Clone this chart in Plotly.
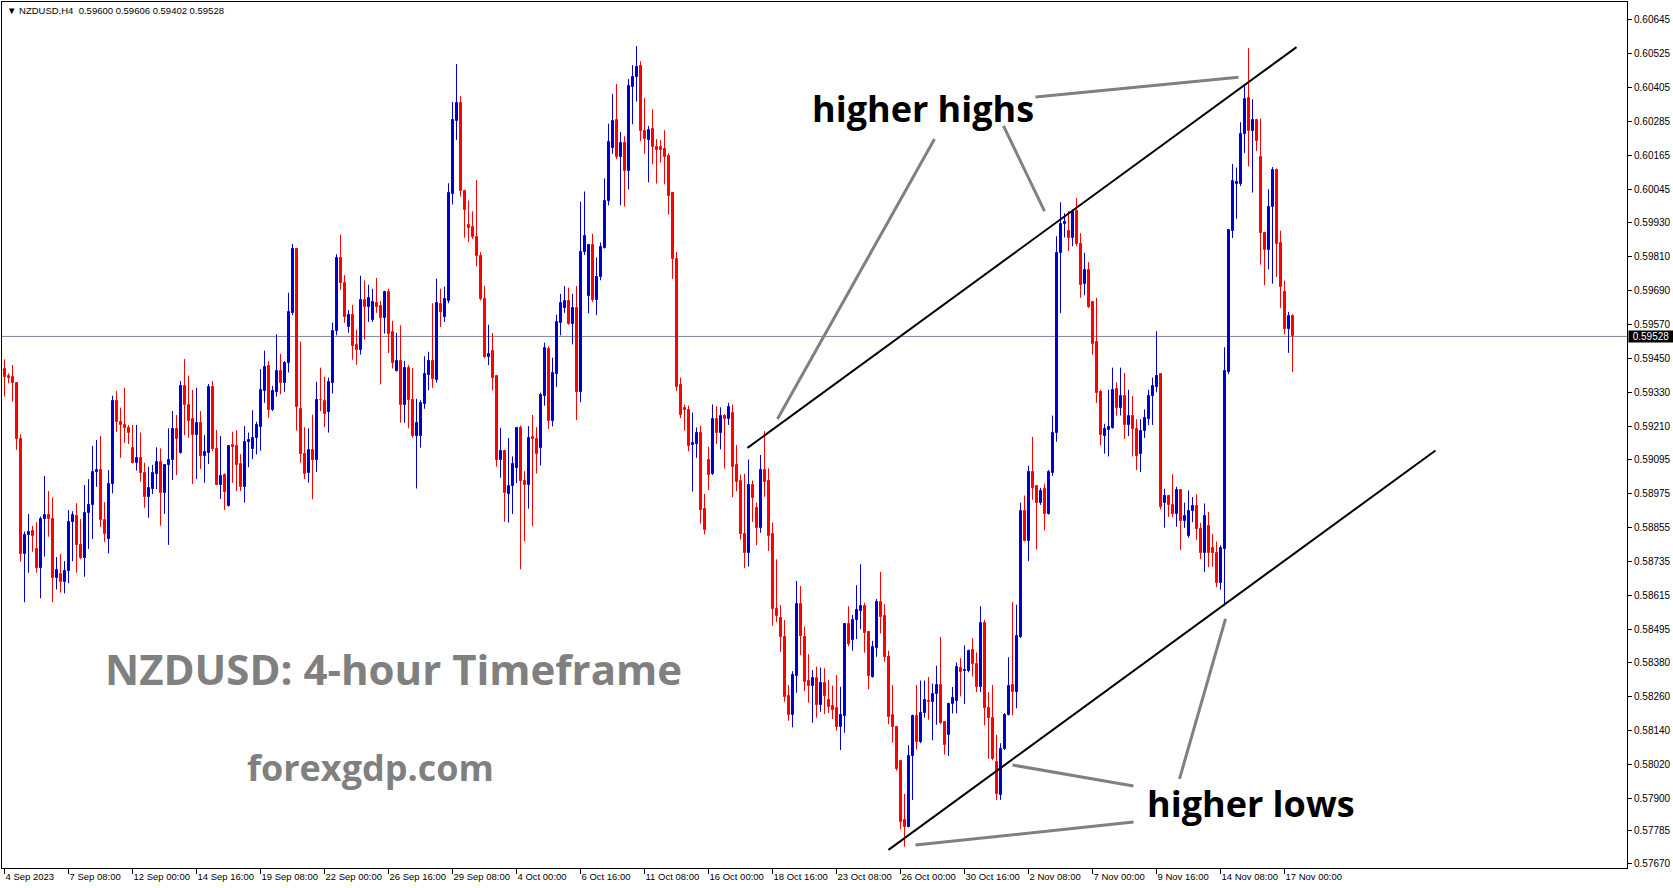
import plotly.graph_objects as go

# ---------------- data (NZDUSD H4) ----------------
open_ = [
    0.59412, 0.59388, 0.59385, 0.59363, 0.59165, 0.58760, 0.58828, 0.58841, 0.58777, 0.58710,
    0.58884, 0.58898, 0.58884, 0.58677, 0.58690, 0.58663, 0.58701, 0.58874, 0.58895, 0.58793,
    0.58748, 0.58904, 0.58934, 0.59049, 0.59057, 0.58881, 0.58815, 0.59008, 0.59300, 0.59227,
    0.59216, 0.59206, 0.59136, 0.59083, 0.59100, 0.59048, 0.58963, 0.58989, 0.59043, 0.59084,
    0.58975, 0.59075, 0.59092, 0.59202, 0.59118, 0.59353, 0.59288, 0.59237, 0.59180, 0.59224,
    0.59106, 0.59118, 0.59351, 0.59130, 0.59006, 0.59040, 0.58930, 0.59145, 0.59142, 0.59078,
    0.58998, 0.59157, 0.59130, 0.59171, 0.59210, 0.59337, 0.59424, 0.59268, 0.59333, 0.59406,
    0.59365, 0.59433, 0.59612, 0.59838, 0.59273, 0.59112, 0.59046, 0.59129, 0.59091, 0.59305,
    0.59302, 0.59260, 0.59365, 0.59546, 0.59806, 0.59716, 0.59561, 0.59603, 0.59498, 0.59480,
    0.59657, 0.59633, 0.59585, 0.59647, 0.59636, 0.59594, 0.59684, 0.59544, 0.59407, 0.59442,
    0.59285, 0.59416, 0.59303, 0.59177, 0.59177, 0.59291, 0.59392, 0.59442, 0.59373, 0.59642,
    0.59597, 0.59654, 0.60030, 0.60288, 0.60351, 0.60042, 0.59922, 0.59914, 0.59879, 0.59812,
    0.59661, 0.59455, 0.59478, 0.59387, 0.59091, 0.59123, 0.58974, 0.59000, 0.59065, 0.59206,
    0.59020, 0.59006, 0.59172, 0.59166, 0.59136, 0.59318, 0.59484, 0.59229, 0.59397, 0.59575,
    0.59629, 0.59654, 0.59572, 0.59627, 0.59333, 0.59825, 0.59672, 0.59851, 0.59655, 0.59737,
    0.59841, 0.60004, 0.60192, 0.60291, 0.60159, 0.60210, 0.60112, 0.60409, 0.60444, 0.60480,
    0.60252, 0.60222, 0.60260, 0.60195, 0.60195, 0.60189, 0.60165, 0.60032, 0.59802, 0.59356,
    0.59274, 0.59270, 0.59147, 0.59149, 0.59189, 0.58921, 0.59094, 0.59043, 0.59237, 0.59187,
    0.59246, 0.59237, 0.59258, 0.59074, 0.59020, 0.58833, 0.58764, 0.59005, 0.58922, 0.58851,
    0.59057, 0.59018, 0.58830, 0.58567, 0.58537, 0.58469, 0.58260, 0.58193, 0.58332, 0.58584,
    0.58469, 0.58314, 0.58297, 0.58325, 0.58228, 0.58307, 0.58246, 0.58226, 0.58219, 0.58152,
    0.58191, 0.58514, 0.58458, 0.58528, 0.58561, 0.58577, 0.58487, 0.58328, 0.58428, 0.58593,
    0.58542, 0.58399, 0.58193, 0.58152, 0.58032, 0.57823, 0.57800, 0.58049, 0.58189, 0.58097,
    0.58199, 0.58244, 0.58240, 0.58267, 0.58299, 0.58169, 0.58124, 0.58232, 0.58244, 0.58359,
    0.58347, 0.58349, 0.58424, 0.58372, 0.58292, 0.58517, 0.58217, 0.58184, 0.58027, 0.57911,
    0.58074, 0.58192, 0.58299, 0.58274, 0.58469, 0.58912, 0.58807, 0.59051, 0.58999, 0.58942,
    0.58990, 0.58901, 0.59047, 0.59186, 0.59823, 0.59924, 0.59901, 0.59875, 0.59970, 0.59855,
    0.59712, 0.59761, 0.59650, 0.59510, 0.59331, 0.59177, 0.59199, 0.59205, 0.59343, 0.59275,
    0.59318, 0.59216, 0.59249, 0.59203, 0.59114, 0.59194, 0.59236, 0.59318, 0.59350, 0.59395,
    0.58942, 0.58964, 0.58935, 0.58903, 0.58988, 0.58877, 0.58824, 0.58912, 0.58931, 0.58848,
    0.58763, 0.58861, 0.58781, 0.58766, 0.58659, 0.58779, 0.59401, 0.59901, 0.60067, 0.60067,
    0.60240, 0.60368, 0.60251, 0.60292, 0.60159, 0.59894, 0.59833, 0.59983, 0.60116, 0.59858,
    0.59683, 0.59555, 0.59600,
]
high = [
    0.59447, 0.59398, 0.59427, 0.59365, 0.59183, 0.58840, 0.58902, 0.58860, 0.58873, 0.58893,
    0.59036, 0.58983, 0.58960, 0.58750, 0.58761, 0.58736, 0.58916, 0.58912, 0.58940, 0.58884,
    0.59004, 0.59025, 0.59142, 0.59163, 0.59177, 0.58944, 0.59057, 0.59319, 0.59335, 0.59277,
    0.59347, 0.59216, 0.59216, 0.59216, 0.59189, 0.59083, 0.59069, 0.59075, 0.59137, 0.59133,
    0.59078, 0.59204, 0.59265, 0.59251, 0.59371, 0.59448, 0.59390, 0.59339, 0.59347, 0.59265,
    0.59180, 0.59360, 0.59371, 0.59198, 0.59177, 0.59045, 0.59145, 0.59192, 0.59198, 0.59113,
    0.59212, 0.59189, 0.59268, 0.59227, 0.59413, 0.59478, 0.59441, 0.59353, 0.59536, 0.59466,
    0.59441, 0.59682, 0.59854, 0.59840, 0.59510, 0.59208, 0.59204, 0.59252, 0.59368, 0.59418,
    0.59386, 0.59383, 0.59577, 0.59818, 0.59887, 0.59744, 0.59621, 0.59639, 0.59552, 0.59742,
    0.59725, 0.59710, 0.59696, 0.59734, 0.59653, 0.59689, 0.59696, 0.59583, 0.59541, 0.59567,
    0.59442, 0.59428, 0.59416, 0.59308, 0.59303, 0.59458, 0.59474, 0.59645, 0.59732, 0.59696,
    0.59704, 0.60068, 0.60355, 0.60488, 0.60375, 0.60045, 0.60007, 0.59969, 0.60079, 0.59825,
    0.59706, 0.59569, 0.59540, 0.59390, 0.59206, 0.59126, 0.59170, 0.59105, 0.59208, 0.59214,
    0.59053, 0.59212, 0.59251, 0.59208, 0.59330, 0.59506, 0.59493, 0.59453, 0.59605, 0.59678,
    0.59706, 0.59700, 0.59678, 0.59706, 0.60003, 0.60039, 0.59853, 0.59890, 0.59806, 0.59859,
    0.60085, 0.60278, 0.60383, 0.60418, 0.60249, 0.60234, 0.60436, 0.60484, 0.60552, 0.60498,
    0.60368, 0.60270, 0.60329, 0.60224, 0.60220, 0.60255, 0.60174, 0.60035, 0.59826, 0.59383,
    0.59288, 0.59284, 0.59260, 0.59207, 0.59213, 0.58973, 0.59139, 0.59288, 0.59282, 0.59278,
    0.59254, 0.59294, 0.59288, 0.59145, 0.59041, 0.59044, 0.59094, 0.59020, 0.58942, 0.59110,
    0.59194, 0.59063, 0.58872, 0.58742, 0.58581, 0.58528, 0.58299, 0.58348, 0.58666, 0.58648,
    0.58505, 0.58408, 0.58352, 0.58364, 0.58361, 0.58358, 0.58317, 0.58297, 0.58334, 0.58293,
    0.58517, 0.58577, 0.58546, 0.58651, 0.58725, 0.58589, 0.58490, 0.58455, 0.58602, 0.58698,
    0.58584, 0.58420, 0.58299, 0.58155, 0.58035, 0.57915, 0.58087, 0.58195, 0.58299, 0.58315,
    0.58315, 0.58327, 0.58304, 0.58367, 0.58469, 0.58172, 0.58237, 0.58292, 0.58379, 0.58394,
    0.58439, 0.58424, 0.58464, 0.58414, 0.58577, 0.58529, 0.58274, 0.58299, 0.58124, 0.58094,
    0.58200, 0.58397, 0.58592, 0.58582, 0.58942, 0.58967, 0.59072, 0.59174, 0.59002, 0.58994,
    0.59009, 0.59057, 0.59249, 0.59881, 0.60001, 0.59962, 0.59970, 0.59975, 0.60016, 0.59892,
    0.59823, 0.59790, 0.59653, 0.59664, 0.59340, 0.59220, 0.59340, 0.59418, 0.59366, 0.59418,
    0.59399, 0.59340, 0.59318, 0.59236, 0.59236, 0.59271, 0.59340, 0.59383, 0.59546, 0.59399,
    0.58991, 0.58970, 0.59042, 0.58998, 0.58990, 0.58942, 0.58985, 0.58962, 0.58972, 0.58870,
    0.58939, 0.58909, 0.58831, 0.58805, 0.58792, 0.59490, 0.59907, 0.60136, 0.60123, 0.60283,
    0.60410, 0.60544, 0.60364, 0.60295, 0.60296, 0.59897, 0.60047, 0.60125, 0.60120, 0.59901,
    0.59725, 0.59614, 0.59606,
]
low = [
    0.59316, 0.59363, 0.59298, 0.59128, 0.58734, 0.58591, 0.58695, 0.58769, 0.58695, 0.58605,
    0.58752, 0.58822, 0.58591, 0.58636, 0.58625, 0.58622, 0.58658, 0.58736, 0.58695, 0.58743,
    0.58681, 0.58779, 0.58814, 0.58998, 0.58857, 0.58804, 0.58763, 0.58975, 0.59192, 0.59100,
    0.59153, 0.59149, 0.59080, 0.59055, 0.59016, 0.58924, 0.58889, 0.58972, 0.58990, 0.58861,
    0.58902, 0.58793, 0.59022, 0.59039, 0.59115, 0.59180, 0.59171, 0.59008, 0.59025, 0.59061,
    0.59012, 0.59078, 0.59124, 0.59004, 0.58955, 0.58916, 0.58928, 0.59012, 0.58983, 0.58983,
    0.58942, 0.59067, 0.59095, 0.59112, 0.59125, 0.59294, 0.59241, 0.59265, 0.59316, 0.59324,
    0.59333, 0.59401, 0.59603, 0.59196, 0.59083, 0.59025, 0.59013, 0.58954, 0.59050, 0.59264,
    0.59208, 0.59189, 0.59327, 0.59532, 0.59692, 0.59576, 0.59541, 0.59446, 0.59428, 0.59464,
    0.59517, 0.59579, 0.59579, 0.59611, 0.59359, 0.59538, 0.59470, 0.59415, 0.59404, 0.59224,
    0.59224, 0.59204, 0.59171, 0.58992, 0.59136, 0.59273, 0.59338, 0.59347, 0.59365, 0.59561,
    0.59579, 0.59645, 0.59993, 0.60221, 0.60021, 0.59876, 0.59860, 0.59872, 0.59775, 0.59655,
    0.59451, 0.59427, 0.59338, 0.59069, 0.59030, 0.58875, 0.58872, 0.58902, 0.59011, 0.58707,
    0.58806, 0.58921, 0.58859, 0.59045, 0.59073, 0.59284, 0.59202, 0.59211, 0.59350, 0.59532,
    0.59611, 0.59569, 0.59500, 0.59233, 0.59296, 0.59815, 0.59609, 0.59650, 0.59603, 0.59726,
    0.59838, 0.59990, 0.60172, 0.60153, 0.59990, 0.59986, 0.60046, 0.60276, 0.60356, 0.60216,
    0.60172, 0.60071, 0.60135, 0.60067, 0.60141, 0.60064, 0.59958, 0.59731, 0.59335, 0.59240,
    0.59196, 0.59123, 0.58981, 0.59100, 0.58868, 0.58830, 0.58987, 0.59040, 0.59149, 0.59130,
    0.59062, 0.59216, 0.58961, 0.58982, 0.58812, 0.58711, 0.58717, 0.58874, 0.58792, 0.58836,
    0.58963, 0.58772, 0.58508, 0.58522, 0.58416, 0.58240, 0.58173, 0.58150, 0.58272, 0.58405,
    0.58278, 0.58237, 0.58166, 0.58184, 0.58205, 0.58197, 0.58201, 0.58179, 0.58138, 0.58070,
    0.58131, 0.58436, 0.58420, 0.58461, 0.58496, 0.58413, 0.58284, 0.58325, 0.58399, 0.58481,
    0.58381, 0.58161, 0.58096, 0.57997, 0.57791, 0.57729, 0.57797, 0.57894, 0.58072, 0.58094,
    0.58184, 0.58177, 0.58104, 0.58159, 0.58161, 0.58054, 0.58049, 0.58199, 0.58199, 0.58259,
    0.58232, 0.58344, 0.58329, 0.58274, 0.58274, 0.58157, 0.58039, 0.58034, 0.57894, 0.57894,
    0.58070, 0.58192, 0.58192, 0.58217, 0.58465, 0.58805, 0.58736, 0.58952, 0.58777, 0.58934,
    0.58844, 0.58900, 0.59036, 0.59157, 0.59610, 0.59877, 0.59829, 0.59846, 0.59846, 0.59664,
    0.59673, 0.59628, 0.59464, 0.59294, 0.59144, 0.59115, 0.59105, 0.59203, 0.59249, 0.59249,
    0.59166, 0.59177, 0.59105, 0.59057, 0.59050, 0.59170, 0.59216, 0.59216, 0.59331, 0.58918,
    0.58854, 0.58892, 0.58890, 0.58857, 0.58775, 0.58853, 0.58818, 0.58873, 0.58811, 0.58743,
    0.58698, 0.58714, 0.58716, 0.58644, 0.58635, 0.58579, 0.59395, 0.59875, 0.59943, 0.60058,
    0.60175, 0.60127, 0.60035, 0.60182, 0.59781, 0.59708, 0.59764, 0.59714, 0.59738, 0.59629,
    0.59536, 0.59470, 0.59402,
]
close = [
    0.59386, 0.59382, 0.59363, 0.59165, 0.58760, 0.58828, 0.58837, 0.58826, 0.58710, 0.58884,
    0.58898, 0.58884, 0.58677, 0.58704, 0.58663, 0.58701, 0.58874, 0.58898, 0.58793, 0.58748,
    0.58904, 0.58934, 0.59049, 0.59057, 0.58881, 0.58830, 0.59008, 0.59300, 0.59227, 0.59216,
    0.59206, 0.59186, 0.59083, 0.59100, 0.59048, 0.58963, 0.58995, 0.59045, 0.59084, 0.58975,
    0.59075, 0.59092, 0.59202, 0.59166, 0.59353, 0.59288, 0.59230, 0.59180, 0.59224, 0.59106,
    0.59120, 0.59351, 0.59130, 0.59006, 0.59036, 0.58981, 0.59142, 0.59139, 0.59075, 0.58998,
    0.59157, 0.59163, 0.59171, 0.59216, 0.59339, 0.59421, 0.59268, 0.59335, 0.59406, 0.59365,
    0.59433, 0.59613, 0.59838, 0.59280, 0.59112, 0.59043, 0.59129, 0.59091, 0.59305, 0.59303,
    0.59255, 0.59368, 0.59547, 0.59806, 0.59716, 0.59597, 0.59603, 0.59496, 0.59480, 0.59657,
    0.59633, 0.59663, 0.59648, 0.59633, 0.59594, 0.59684, 0.59538, 0.59436, 0.59442, 0.59287,
    0.59416, 0.59303, 0.59178, 0.59222, 0.59293, 0.59395, 0.59442, 0.59377, 0.59647, 0.59613,
    0.59659, 0.60034, 0.60292, 0.60351, 0.60039, 0.59975, 0.59912, 0.59879, 0.59811, 0.59661,
    0.59457, 0.59467, 0.59381, 0.59093, 0.59123, 0.58975, 0.59002, 0.59079, 0.59206, 0.59017,
    0.59006, 0.59170, 0.59166, 0.59115, 0.59321, 0.59487, 0.59230, 0.59399, 0.59578, 0.59645,
    0.59654, 0.59572, 0.59627, 0.59333, 0.59825, 0.59882, 0.59851, 0.59655, 0.59736, 0.59845,
    0.60005, 0.60214, 0.60287, 0.60159, 0.60210, 0.60112, 0.60410, 0.60444, 0.60478, 0.60252,
    0.60224, 0.60255, 0.60195, 0.60186, 0.60184, 0.60162, 0.60023, 0.59800, 0.59351, 0.59250,
    0.59268, 0.59141, 0.59151, 0.59189, 0.58917, 0.58845, 0.59041, 0.59237, 0.59189, 0.59246,
    0.59237, 0.59279, 0.59068, 0.59014, 0.58832, 0.58764, 0.59005, 0.58958, 0.58853, 0.59057,
    0.59016, 0.58825, 0.58567, 0.58542, 0.58469, 0.58258, 0.58193, 0.58334, 0.58584, 0.58473,
    0.58311, 0.58297, 0.58325, 0.58228, 0.58307, 0.58260, 0.58223, 0.58211, 0.58152, 0.58193,
    0.58514, 0.58443, 0.58530, 0.58563, 0.58577, 0.58483, 0.58331, 0.58432, 0.58593, 0.58540,
    0.58399, 0.58187, 0.58150, 0.58003, 0.57817, 0.57797, 0.58049, 0.58189, 0.58099, 0.58199,
    0.58247, 0.58240, 0.58267, 0.58299, 0.58166, 0.58089, 0.58232, 0.58252, 0.58364, 0.58344,
    0.58352, 0.58419, 0.58372, 0.58292, 0.58517, 0.58217, 0.58184, 0.58037, 0.57914, 0.58074,
    0.58194, 0.58297, 0.58274, 0.58472, 0.58912, 0.58807, 0.59051, 0.58994, 0.58942, 0.58984,
    0.58901, 0.59051, 0.59189, 0.59823, 0.59924, 0.59931, 0.59875, 0.59966, 0.59853, 0.59709,
    0.59761, 0.59631, 0.59503, 0.59329, 0.59179, 0.59200, 0.59209, 0.59340, 0.59275, 0.59318,
    0.59216, 0.59249, 0.59203, 0.59105, 0.59194, 0.59242, 0.59318, 0.59353, 0.59389, 0.58925,
    0.58964, 0.58935, 0.58903, 0.58985, 0.58879, 0.58894, 0.58912, 0.58929, 0.58850, 0.58766,
    0.58894, 0.58766, 0.58766, 0.58659, 0.58781, 0.59405, 0.59904, 0.60077, 0.60072, 0.60243,
    0.60364, 0.60251, 0.60292, 0.60218, 0.59892, 0.59833, 0.59986, 0.60116, 0.59855, 0.59703,
    0.59555, 0.59601, 0.59528,
]

time_labels = ["4 Sep 2023", "7 Sep 08:00", "12 Sep 00:00", "14 Sep 16:00", "19 Sep 08:00",
               "22 Sep 00:00", "26 Sep 16:00", "29 Sep 08:00", "4 Oct 00:00", "6 Oct 16:00",
               "11 Oct 08:00", "16 Oct 00:00", "18 Oct 16:00", "23 Oct 08:00", "26 Oct 00:00",
               "30 Oct 16:00", "2 Nov 08:00", "7 Nov 00:00", "9 Nov 16:00", "14 Nov 08:00",
               "17 Nov 00:00"]
bars_per_label = 16

price_ticks = ["0.60645", "0.60525", "0.60405", "0.60285", "0.60165", "0.60045", "0.59930",
               "0.59810", "0.59690", "0.59570", "0.59450", "0.59330", "0.59210", "0.59095",
               "0.58975", "0.58855", "0.58735", "0.58615", "0.58495", "0.58380", "0.58260",
               "0.58140", "0.58020", "0.57900", "0.57785", "0.57670"]
last_price = 0.59528
header = "\u25BC NZDUSD,H4\u00a0\u00a00.59600 0.59606 0.59402 0.59528"

# trend channel (bar index, price)
upper_channel = [(185.75, 0.59135), (323.0, 0.60548)]
lower_channel = [(221.0, 0.57718), (357.75, 0.59126)]
# pointer lines (bar index, price)
pointers = [
    [(232.5, 0.60224), (193.25, 0.59237)],
    [(249.75, 0.60270), (260.0, 0.59970)],
    [(257.75, 0.60372), (308.5, 0.60442)],
    [(282.25, 0.57943), (252.0, 0.58017)],
    [(282.25, 0.57816), (227.75, 0.57735)],
    [(293.75, 0.57968), (305.25, 0.58532)],
]
texts = [
    ("higher highs", 229.5, 0.60330, "black", 36),
    ("higher lows", 311.6, 0.57883, "black", 36),
    ("NZDUSD: 4-hour Timeframe", 97.25, 0.58356, "#808080", 42),
    ("forexgdp.com", 91.5, 0.58007, "#808080", 36),
]

# ---------------- figure ----------------
BLUE = "#0000CC"
RED = "#FF0000"
x = list(range(len(close)))
is_up = [c >= o for o, c in zip(open_, close)]
colors = [BLUE if u else RED for u in is_up]
body_base = [min(o, c) for o, c in zip(open_, close)]
body_size = [abs(c - o) for o, c in zip(open_, close)]

fig = go.Figure()
for want_up, col in ((True, BLUE), (False, RED)):
    wx, wy = [], []
    for i in x:
        if is_up[i] == want_up:
            wx += [i, i, None]
            wy += [low[i], high[i], None]
    fig.add_trace(go.Scatter(x=wx, y=wy, mode="lines", line=dict(color=col, width=1),
                             hoverinfo="skip", showlegend=False))
fig.add_trace(go.Bar(x=x, y=body_size, base=body_base, width=0.5,
                     marker=dict(color=colors, line=dict(color=colors, width=1)),
                     hoverinfo="skip", showlegend=False))

shapes = [dict(type="line", xref="paper", yref="y", x0=0, x1=1, y0=last_price, y1=last_price,
               line=dict(color="#778899", width=1), layer="below")]
for seg in (upper_channel, lower_channel):
    shapes.append(dict(type="line", xref="x", yref="y", x0=seg[0][0], y0=seg[0][1],
                       x1=seg[1][0], y1=seg[1][1], line=dict(color="black", width=2)))
for seg in pointers:
    shapes.append(dict(type="line", xref="x", yref="y", x0=seg[0][0], y0=seg[0][1],
                       x1=seg[1][0], y1=seg[1][1], line=dict(color="#808080", width=3)))

annotations = []
for t, bx, py, col, sz in texts:
    annotations.append(dict(text=t, x=bx, y=py, xref="x", yref="y", showarrow=False,
                            xanchor="center", yanchor="middle",
                            font=dict(family="Open Sans", size=sz, color=col, weight="bold")))
annotations.append(dict(text=header, x=0, y=1, xref="paper", yref="paper", showarrow=False,
                        xanchor="left", yanchor="top", xshift=3, yshift=-1,
                        font=dict(family="Liberation Sans", size=9.5, color="black")))
annotations.append(dict(text=str(last_price), x=1, y=last_price, xref="paper", yref="y",
                        showarrow=False, xanchor="left", yanchor="middle", xshift=1,
                        width=44, align="center", bgcolor="black", borderpad=0,
                        font=dict(family="Liberation Sans", size=10, color="white")))

fig.update_layout(
    width=1673, height=888,
    margin=dict(l=2, r=46, t=2, b=20),
    paper_bgcolor="white", plot_bgcolor="white",
    font=dict(family="Liberation Sans", size=10, color="black"),
    shapes=shapes, annotations=annotations,
    showlegend=False, bargap=0,
)
fig.update_xaxes(
    range=[-0.625, 405.625], automargin=False,
    showgrid=False, zeroline=False,
    showline=True, linecolor="black", linewidth=1, mirror=True,
    tickvals=[i * bars_per_label for i in range(len(time_labels))], ticktext=time_labels,
    ticks="outside", ticklen=5, tickcolor="black", tickangle=0,
    ticklabelposition="outside right",
    tickfont=dict(family="Liberation Sans", size=9.5, color="black"),
)
fig.update_yaxes(
    range=[0.57654, 0.60707], side="right", automargin=False,
    showgrid=False, zeroline=False,
    showline=True, linecolor="black", linewidth=1, mirror=True,
    tickvals=[float(v) for v in price_ticks], ticktext=price_ticks,
    ticks="outside", ticklen=4, tickcolor="black",
    tickfont=dict(family="Liberation Sans", size=10, color="black"),
)

fig.write_html("out.html", config={"displayModeBar": False},
               post_script="document.body.style.margin='0';document.body.style.overflow='hidden';")
